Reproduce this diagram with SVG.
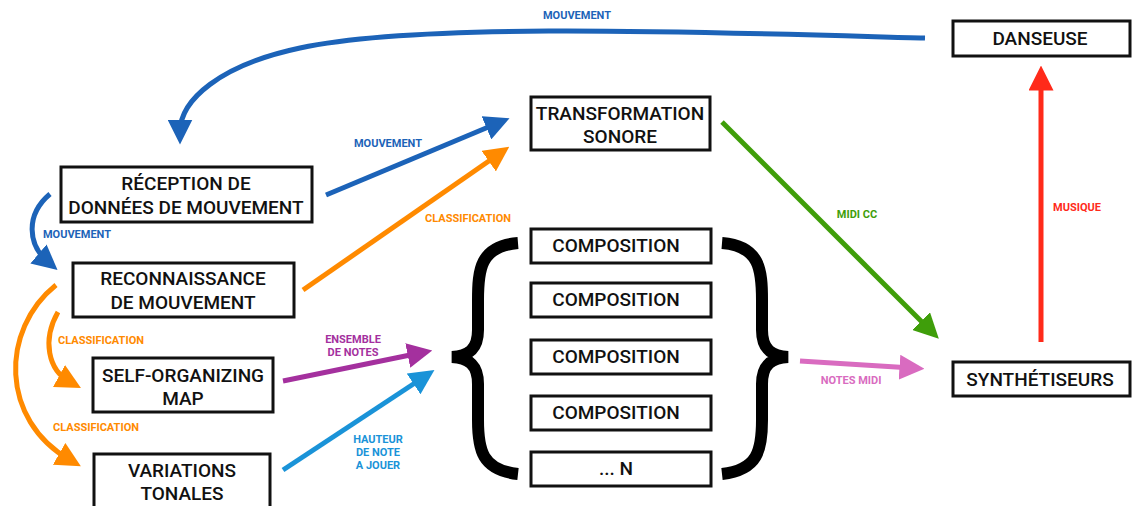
<svg xmlns="http://www.w3.org/2000/svg" width="1132" height="506" viewBox="0 0 1132 506">
<style>
.box{fill:#fff;stroke:#111;stroke-width:3}
.t{font-family:Roboto,"Liberation Sans",sans-serif;font-weight:500;font-size:19px;fill:#111;text-anchor:middle}
.l{font-family:Roboto,"Liberation Sans",sans-serif;font-weight:700;font-size:11px;text-anchor:middle}
.c{fill:none;stroke-width:5}
.brace{fill:none;stroke:#000;stroke-width:12}
</style>
<defs>
<marker id="ab" viewBox="0 0 10 10" refX="5" refY="5" markerWidth="5" markerHeight="5" orient="auto" markerUnits="strokeWidth"><path d="M0,0L10,5L0,10z" fill="#1c63b8"/></marker>
<marker id="ao" viewBox="0 0 10 10" refX="5" refY="5" markerWidth="5" markerHeight="5" orient="auto" markerUnits="strokeWidth"><path d="M0,0L10,5L0,10z" fill="#ff8a00"/></marker>
<marker id="ag" viewBox="0 0 10 10" refX="5" refY="5" markerWidth="5" markerHeight="5" orient="auto" markerUnits="strokeWidth"><path d="M0,0L10,5L0,10z" fill="#3f9e0a"/></marker>
<marker id="ap" viewBox="0 0 10 10" refX="5" refY="5" markerWidth="5" markerHeight="5" orient="auto" markerUnits="strokeWidth"><path d="M0,0L10,5L0,10z" fill="#d96bc0"/></marker>
<marker id="am" viewBox="0 0 10 10" refX="5" refY="5" markerWidth="5" markerHeight="5" orient="auto" markerUnits="strokeWidth"><path d="M0,0L10,5L0,10z" fill="#a4309e"/></marker>
<marker id="al" viewBox="0 0 10 10" refX="5" refY="5" markerWidth="5" markerHeight="5" orient="auto" markerUnits="strokeWidth"><path d="M0,0L10,5L0,10z" fill="#1a93d8"/></marker>
<marker id="ar" viewBox="0 0 10 10" refX="5" refY="5" markerWidth="5" markerHeight="5" orient="auto" markerUnits="strokeWidth"><path d="M0,0L10,5L0,10z" fill="#ff2a1a"/></marker>
</defs>
<rect width="1132" height="506" fill="#fff"/>
<g id="connectors">
<path class="c" stroke="#1c63b8" d="M925,38 C700,32 420,22 300,48 C220,65 180,100 180,132" marker-end="url(#ab)"/>
<text class="l" x="577" y="19" fill="#1c63b8">MOUVEMENT</text>
<path class="c" stroke="#ff2a1a" d="M1041,342 L1041,78" marker-end="url(#ar)"/>
<text class="l" x="1077" y="211" fill="#ff2a1a">MUSIQUE</text>
<path class="c" stroke="#3f9e0a" d="M722,122 L930,330" marker-end="url(#ag)"/>
<text class="l" x="857" y="218" fill="#3f9e0a">MIDI CC</text>
<path class="c" stroke="#d96bc0" d="M800,361 L912,368" marker-end="url(#ap)"/>
<text class="l" x="851" y="384" fill="#d96bc0">NOTES MIDI</text>
<path class="c" stroke="#1c63b8" d="M326,195 L498,123" marker-end="url(#ab)"/>
<text class="l" x="388" y="147" fill="#1c63b8">MOUVEMENT</text>
<path class="c" stroke="#ff8a00" d="M303,290 L499,154" marker-end="url(#ao)"/>
<text class="l" x="468" y="222" fill="#ff8a00">CLASSIFICATION</text>
<path class="c" stroke="#a4309e" d="M283,381 L420,353" marker-end="url(#am)"/>
<text class="l" x="353" y="343" fill="#a4309e">ENSEMBLE</text>
<text class="l" x="353" y="356" fill="#a4309e">DE NOTES</text>
<path class="c" stroke="#1a93d8" d="M283,470 L424,377" marker-end="url(#al)"/>
<text class="l" x="378" y="443" fill="#1a93d8">HAUTEUR</text>
<text class="l" x="378" y="456" fill="#1a93d8">DE NOTE</text>
<text class="l" x="378" y="469" fill="#1a93d8">A JOUER</text>
<path class="c" stroke="#1c63b8" d="M50,194 C25,215 28,245 48,262" marker-end="url(#ab)"/>
<text class="l" x="77" y="238" fill="#1c63b8">MOUVEMENT</text>
<path class="c" stroke="#ff8a00" d="M58,312 C42,340 48,370 70,382" marker-end="url(#ao)"/>
<text class="l" x="101" y="344" fill="#ff8a00">CLASSIFICATION</text>
<path class="c" stroke="#ff8a00" d="M56,285 C0,330 0,420 70,460" marker-end="url(#ao)"/>
<text class="l" x="96" y="431" fill="#ff8a00">CLASSIFICATION</text>
<path class="brace" d="M518,243 C480,246 478,270 478,300 L478,330 C478,350 468,356 452,357 C468,358 478,364 478,384 L478,420 C478,450 482,470 518,474"/>
<path class="brace" d="M722,243 C760,246 762,270 762,300 L762,330 C762,350 772,356 788,357 C772,358 762,364 762,384 L762,420 C762,450 758,470 722,474"/>
</g>
<g id="danseuse"><rect class="box" x="953" y="21" width="177" height="35"/><text class="t" x="1040" y="45">DANSEUSE</text></g>
<g id="transformation"><rect class="box" x="531" y="97" width="179" height="53"/><text class="t" x="620" y="120">TRANSFORMATION</text><text class="t" x="620" y="143">SONORE</text></g>
<g id="reception"><rect class="box" x="61" y="167" width="251" height="55"/><text class="t" x="186" y="190">RÉCEPTION DE</text><text class="t" x="186" y="214">DONNÉES DE MOUVEMENT</text></g>
<g id="reconnaissance"><rect class="box" x="73" y="263" width="221" height="54"/><text class="t" x="183" y="285">RECONNAISSANCE</text><text class="t" x="183" y="309">DE MOUVEMENT</text></g>
<g id="som"><rect class="box" x="93" y="358" width="180" height="54"/><text class="t" x="183" y="382">SELF-ORGANIZING</text><text class="t" x="183" y="405">MAP</text></g>
<g id="variations"><rect class="box" x="94" y="454" width="176" height="56"/><text class="t" x="182" y="477">VARIATIONS</text><text class="t" x="182" y="500">TONALES</text></g>
<g id="comp1"><rect class="box" x="531" y="229" width="180" height="34"/><text class="t" x="616" y="252">COMPOSITION</text></g>
<g id="comp2"><rect class="box" x="531" y="283" width="180" height="34"/><text class="t" x="616" y="306">COMPOSITION</text></g>
<g id="comp3"><rect class="box" x="531" y="340" width="180" height="34"/><text class="t" x="616" y="363">COMPOSITION</text></g>
<g id="comp4"><rect class="box" x="531" y="396" width="180" height="34"/><text class="t" x="616" y="419">COMPOSITION</text></g>
<g id="compN"><rect class="box" x="531" y="452" width="180" height="34"/><text class="t" x="616" y="475">... N</text></g>
<g id="synth"><rect class="box" x="953" y="362" width="177" height="34"/><text class="t" x="1040" y="386">SYNTHÉTISEURS</text></g>
</svg>
